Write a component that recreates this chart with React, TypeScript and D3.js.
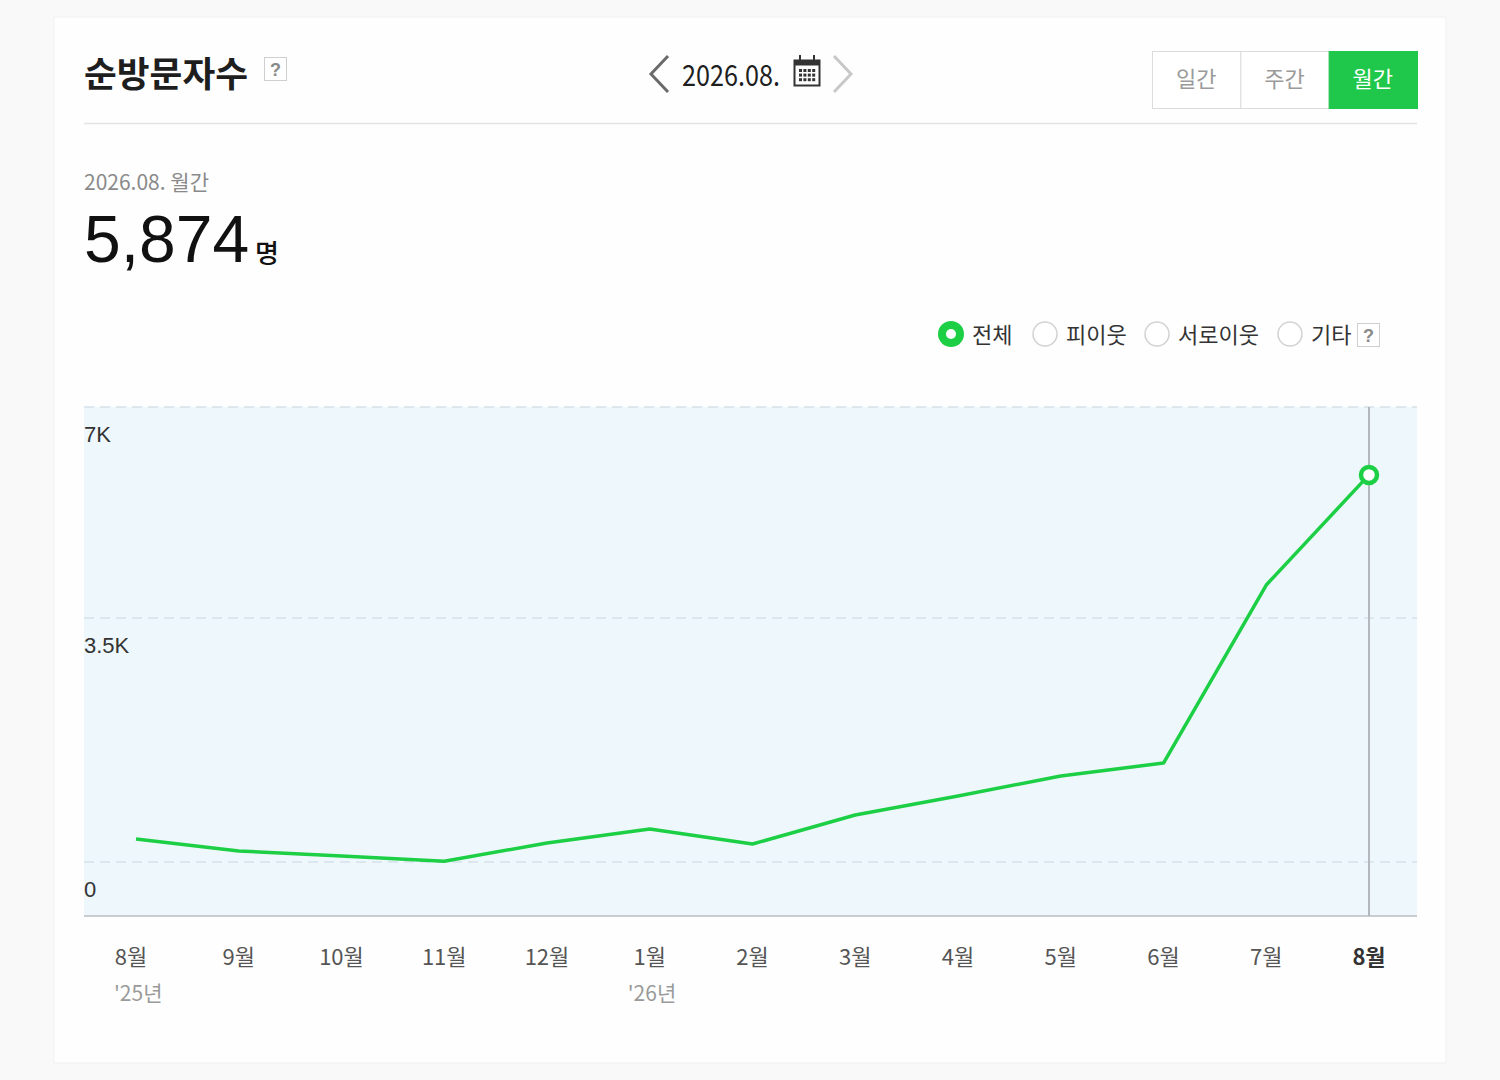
import * as d3 from "d3";
import React from "react";

// monthly unique visitors, Aug '25 .. Aug '26
const periods = [
  "2025-08", "2025-09", "2025-10", "2025-11", "2025-12", "2026-01", "2026-02",
  "2026-03", "2026-04", "2026-05", "2026-06", "2026-07", "2026-08",
];
const monthLabels = ["8월", "9월", "10월", "11월", "12월", "1월", "2월", "3월", "4월", "5월", "6월", "7월", "8월"];
const visitors = [330, 158, 86, 10, 273, 473, 258, 674, 947, 1234, 1420, 4047, 5874];
const yearPeriods = ["2025-08", "2026-01"];
const yearLabels = ["'25년", "'26년"];
const yTicks = [0, 3500, 7000];
const yTickLabels = ["0", "3.5K", "7K"];
const tabs = ["일간", "주간", "월간"];
const legendItems = ["전체", "피이웃", "서로이웃", "기타"];

const GREEN = "#1ccf45";
const TAB_GREEN = "#1fc74b";
const KR = "'Noto Sans CJK KR', 'Noto Sans', sans-serif";
const LAT = "'Liberation Sans', Arial, sans-serif";

const plot = { left: 84, right: 1417, top: 407, bottom: 916 };

const App: React.FC = () => {
  const x = d3.scalePoint<string>().domain(periods).range([136, 1369]);
  const y = d3.scaleLinear().domain([0, 3500, 7000]).range([862, 618, 407]);

  const line = d3
    .line<number>()
    .x((_, i) => x(periods[i])!)
    .y((d) => y(d));

  const lastIdx = periods.length - 1;
  const lastX = x(periods[lastIdx])!;

  // legend radio positions
  const legendX = [951, 1045, 1157, 1290];
  const tabX = d3.scaleBand<string>().domain(tabs).range([1152, 1417]);

  return (
    <div style={{ position: "absolute", left: 0, top: 0 }}>
      <svg width={1500} height={1080} style={{ display: "block" }}>
        <rect width={1500} height={1080} fill="#f9f9f9" />
        <rect x={54} y={17} width={1392} height={1046} fill="#fefefe" stroke="#f1f1f1" />

        {/* header */}
        <text x={84} y={87} fontFamily={KR} fontWeight={700} fontSize={35} fill="#1e1e1e" textLength={164} lengthAdjust="spacingAndGlyphs">
          순방문자수
        </text>
        <rect x={264.5} y={57.5} width={22} height={23} fill="#fff" stroke="#cfcfcf" />
        <text x={275.5} y={76} textAnchor="middle" fontFamily={LAT} fontWeight={700} fontSize={18} fill="#8a8a8a">
          ?
        </text>

        <path d="M668,56 L651,74 L668,92" fill="none" stroke="#6a6a6a" strokeWidth={3} />
        <text x={682} y={86} fontFamily={KR} fontSize={29} fill="#1e1e1e" textLength={98} lengthAdjust="spacingAndGlyphs">
          2026.08.
        </text>
        <g>
          <rect x={794.5} y={60.5} width={25} height={25} fill="none" stroke="#333" strokeWidth={2} />
          <rect x={794.5} y={60.5} width={25} height={5} fill="#333" />
          <line x1={800} y1={55} x2={800} y2={61} stroke="#333" strokeWidth={2} />
          <line x1={814} y1={55} x2={814} y2={61} stroke="#333" strokeWidth={2} />
          {d3.range(12).map((k) => (
            <rect key={k} x={799 + (k % 4) * 4.4} y={69 + Math.floor(k / 4) * 4.6} width={3} height={3} fill="#333" />
          ))}
        </g>
        <path d="M834,56 L851,74 L834,92" fill="none" stroke="#c8c8c8" strokeWidth={3} />

        {tabs.map((t, i) => {
          const active = i === tabs.length - 1;
          return (
            <g key={t}>
              <rect
                x={tabX(t)! + 0.5}
                y={51.5}
                width={tabX.bandwidth()}
                height={57}
                fill={active ? TAB_GREEN : "#fff"}
                stroke={active ? TAB_GREEN : "#dcdcdc"}
              />
              <text
                x={tabX(t)! + tabX.bandwidth() / 2}
                y={87}
                textAnchor="middle"
                fontFamily={KR}
                fontSize={22}
                fill={active ? "#fff" : "#9a9a9a"}
              >
                {t}
              </text>
            </g>
          );
        })}

        <line x1={84} x2={1417} y1={123.5} y2={123.5} stroke="#e4e4e4" strokeWidth={1.5} />

        <text x={84} y={190} fontFamily={KR} fontSize={21} fill="#8a8a8a">
          2026.08. 월간
        </text>
        <text x={84} y={262} fontFamily={LAT} fontSize={66} fill="#111">
          {d3.format(",")(visitors[lastIdx])}
        </text>
        <text x={255} y={263} fontFamily={KR} fontSize={26} fontWeight={500} fill="#111">
          명
        </text>

        {/* legend */}
        {legendItems.map((t, i) => (
          <g key={t}>
            {i === 0 ? (
              <>
                <circle cx={legendX[i]} cy={334} r={13} fill={GREEN} />
                <circle cx={legendX[i]} cy={334} r={5} fill="#fff" />
              </>
            ) : (
              <circle cx={legendX[i]} cy={334} r={12} fill="#fff" stroke="#d2d2d2" strokeWidth={1.5} />
            )}
            <text x={legendX[i] + 21} y={343} fontFamily={KR} fontSize={22} fill="#333">
              {t}
            </text>
          </g>
        ))}
        <rect x={1357.5} y={323.5} width={22} height={23} fill="#fff" stroke="#cfcfcf" />
        <text x={1368.5} y={342} textAnchor="middle" fontFamily={LAT} fontWeight={700} fontSize={18} fill="#8a8a8a">
          ?
        </text>

        {/* chart */}
        <rect
          x={plot.left}
          y={plot.top}
          width={plot.right - plot.left}
          height={plot.bottom - plot.top}
          fill="#eef7fc"
        />
        {yTicks.map((t, i) => (
          <g key={t}>
            <line
              x1={plot.left}
              x2={plot.right}
              y1={y(t)}
              y2={y(t)}
              stroke="#d6e1ea"
              strokeWidth={1.5}
              strokeDasharray="10,6"
            />
            <text x={plot.left} y={y(t) + 35} fontFamily={LAT} fontSize={22} fill="#333">
              {yTickLabels[i]}
            </text>
          </g>
        ))}
        <line x1={plot.left} x2={plot.right} y1={plot.bottom} y2={plot.bottom} stroke="#c9cdd1" strokeWidth={2} />
        <line x1={lastX} x2={lastX} y1={plot.top} y2={plot.bottom} stroke="#b3b8bd" strokeWidth={2} />

        <path d={line(visitors) ?? ""} fill="none" stroke={GREEN} strokeWidth={3.5} strokeLinejoin="round" />
        <circle cx={lastX} cy={y(visitors[lastIdx])} r={8} fill="#fff" stroke={GREEN} strokeWidth={4.5} />

        {periods.map((p, i) => (
          <text
            key={p}
            x={x(p)! - (i === 0 ? 5 : 0)}
            y={965}
            textAnchor="middle"
            fontFamily={KR}
            fontSize={22}
            fontWeight={i === lastIdx ? 700 : 400}
            fill={i === lastIdx ? "#333" : "#555"}
          >
            {monthLabels[i]}
          </text>
        ))}
        {yearPeriods.map((p, i) => (
          <text key={p} x={x(p)! - 22} y={1001} fontFamily={KR} fontSize={21} fill="#9a9a9a">
            {yearLabels[i]}
          </text>
        ))}
      </svg>
    </div>
  );
};

export default App;
